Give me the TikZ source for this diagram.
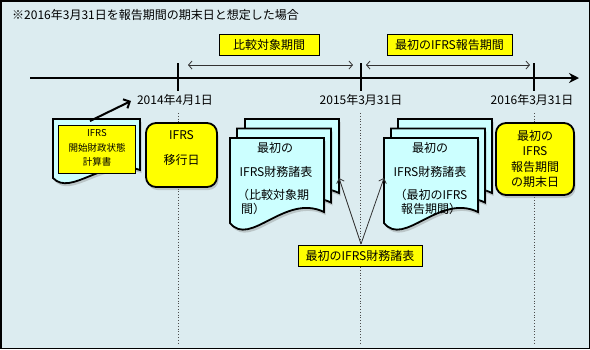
\documentclass[tikz,border=0pt]{standalone}
\usepackage{fontspec}
\setmainfont{Noto Sans CJK JP}
\usetikzlibrary{arrows.meta,shadows}
\definecolor{bgc}{RGB}{220,236,240}
\definecolor{pagec}{RGB}{204,255,255}
\definecolor{yel}{RGB}{255,255,0}
\definecolor{arrc}{RGB}{50,50,50}
\begin{document}
\begin{tikzpicture}[x=1pt,y=-1pt,
  every node/.style={inner sep=0pt, font=\fontsize{12}{14}\selectfont},
  shd/.style={drop shadow={opacity=0.35,shadow xshift=1.5pt,shadow yshift=-3pt}},
  lbl/.style={draw=black,line width=0.8pt,fill=yel,minimum height=21pt},
  rbox/.style={draw=black,line width=1.8pt,fill=yel,rounded corners=10pt,shd},
  pagestyle/.style={draw=black,line width=1.8pt,fill=pagec,shd},
  dotline/.style={draw=black!70,dotted,line width=0.8pt},
  tickline/.style={line width=2.5pt},
  thinarr/.style={draw=arrc,line width=0.8pt,{Straight Barb[length=3.5pt,width=8pt]}-{Straight Barb[length=3.5pt,width=8pt]}},
  onearr/.style={draw=arrc,line width=0.8pt,-{Straight Barb[length=4pt,width=8pt]}},
  bigpage/.pic={\path[pagestyle] (0,0) -- (94,0) -- (94,74) .. controls (55,55) and (20,110) .. (0,85) -- cycle;},
  smallpage/.pic={\path[pagestyle] (0,0) -- (87,0) -- (87,51) .. controls (50,38) and (18,78) .. (0,59) -- cycle;}
]
\useasboundingbox (0,0) rectangle (590,349);
\fill[bgc] (0,0) rectangle (590,349);
\draw[line width=1.5pt] (0.75,0.75) rectangle (589.25,348.25);

% title
\node[anchor=west] (title) at (12,15) {※2016年3月31日を報告期間の期末日と想定した場合};

% period labels
\node[lbl,minimum width=100pt] (cmp) at (269,44.5) {比較対象期間};
\node[lbl,minimum width=125pt] (rep) at (449.5,44.5) {最初のIFRS報告期間};

% period arrows
\coordinate (a1s) at (188,65); \coordinate (a1e) at (353,65);
\coordinate (a2s) at (366,65); \coordinate (a2e) at (530,65);
\draw[thinarr] (a1s) -- (a1e);
\draw[thinarr] (a2s) -- (a2e);

% timeline
\coordinate (tl0) at (30,78); \coordinate (tl1) at (579,78);
\draw[line width=2.5pt,-{Stealth[length=10pt,width=10pt]}] (tl0) -- (tl1);
\coordinate (t1a) at (178,63); \coordinate (t1b) at (178,91);
\coordinate (t2a) at (361,63); \coordinate (t2b) at (361,91);
\coordinate (t3a) at (534,63); \coordinate (t3b) at (534,91);
\draw[tickline] (t1a) -- (t1b);
\draw[tickline] (t2a) -- (t2b);
\draw[tickline] (t3a) -- (t3b);

% dates
\node (d1) at (175,100) {2014年4月1日};
\node (d2) at (361,100) {2015年3月31日};
\node (d3) at (532,100) {2016年3月31日};

% dotted lines
\coordinate (v1a) at (178,113); \coordinate (v1b) at (178,344);
\coordinate (v2a) at (360,113); \coordinate (v2b) at (360,344);
\coordinate (v3a) at (534,113); \coordinate (v3b) at (534,344);
\draw[dotline] (v1a) -- (v1b);
\draw[dotline] (v2a) -- (v2b);
\draw[dotline] (v3a) -- (v3b);

% small document
\pic at (53,119) {smallpage};
\node[draw=black,line width=0.8pt,fill=yel,minimum width=77pt,minimum height=48pt] (oprect) at (96.5,149) {};
\node[align=center,font=\fontsize{9.5}{14.5}\selectfont] (optxt) at (97,148) {IFRS\\開始財政状態\\計算書};
\coordinate (arS) at (90,121); \coordinate (arE) at (131,101);
\draw[line width=2pt,-{Straight Barb[length=5pt,width=10pt]}] (arS) -- (arE);

% IFRS transition date box
\node[rbox,minimum width=71pt,minimum height=64pt] (trbox) at (181.5,155) {};
\node (trt1) at (181.5,135) {IFRS};
\node (trt2) at (181.5,160) {移行日};

% stack 1
\pic at (245,119) {bigpage};
\pic at (237,128.5) {bigpage};
\pic at (230,138) {bigpage};
\node (s1a) at (275,148) {最初の};
\node (s1b) at (276,172) {IFRS財務諸表};
\node[anchor=west] (s1c) at (237,195) {（比較対象期};
\node[anchor=west] (s1d) at (241,209) {間）};

% stack 2
\pic at (398,119) {bigpage};
\pic at (391,128.5) {bigpage};
\pic at (384,138) {bigpage};
\node (s2a) at (430,148) {最初の};
\node (s2b) at (430,172) {IFRS財務諸表};
\node (s2c) at (431,195) {（最初のIFRS};
\node (s2d) at (431,209) {報告期間）};

% end box
\node[rbox,minimum width=78pt,minimum height=72pt,align=center,font=\fontsize{12}{15.5}\selectfont] (endbox) at (535,159) {最初の\\IFRS\\報告期間\\の期末日};

% bottom label and arrows
\coordinate (p1) at (339,178);
\coordinate (p2) at (384,178);
\coordinate (bs) at (361,244);
\draw[onearr] (bs) -- (p1);
\draw[onearr] (bs) -- (p2);
\node[lbl,minimum width=124pt] (fin) at (360,255.5) {最初のIFRS財務諸表};
\end{tikzpicture}
\end{document}
